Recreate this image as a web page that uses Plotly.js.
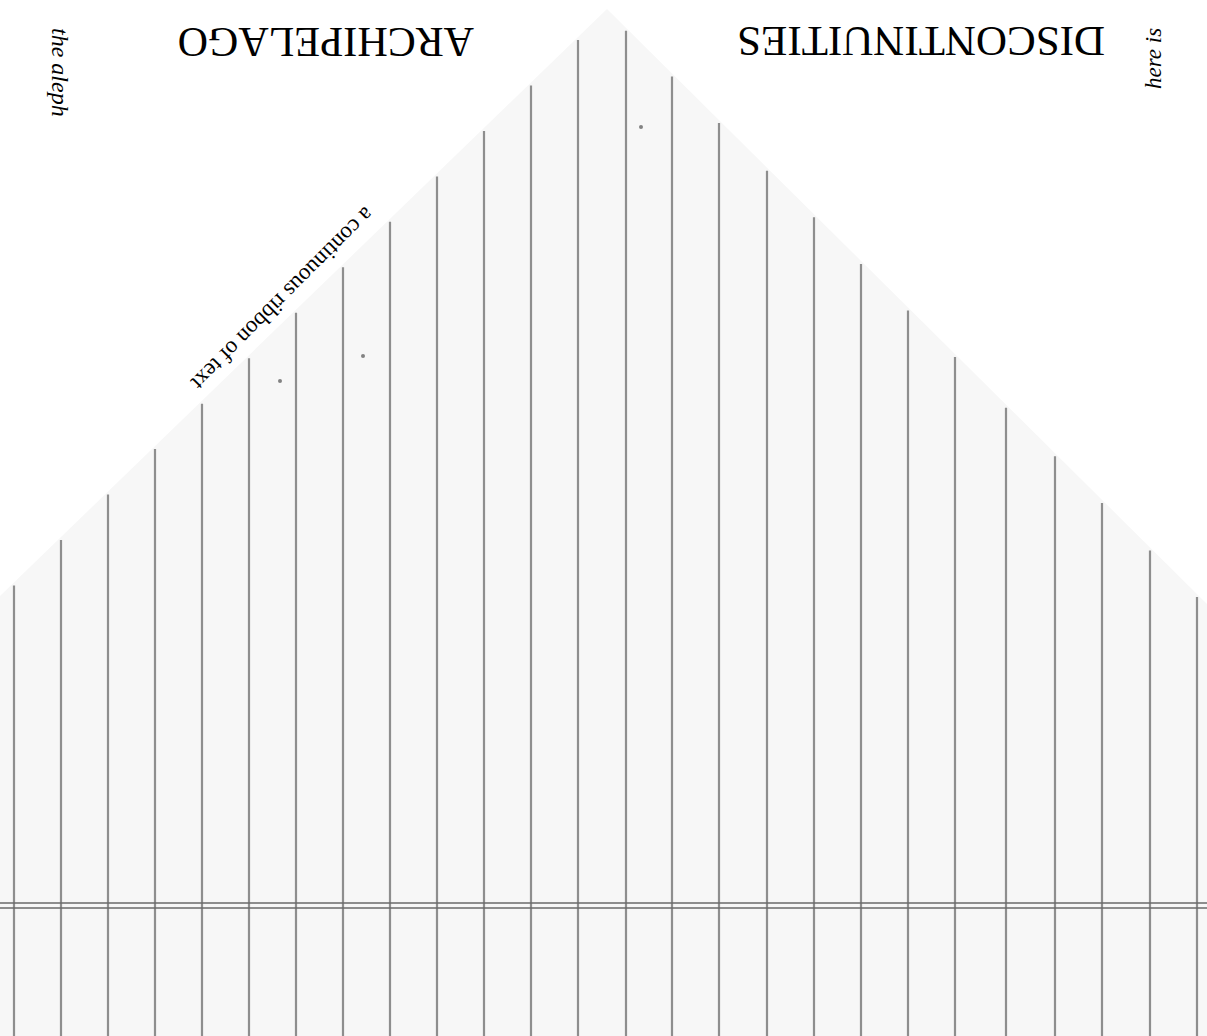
<!DOCTYPE html>
<html>
<head>
<meta charset="utf-8">
<script src="https://cdn.plot.ly/plotly-3.0.1.min.js"></script>
<style>
  html, body { margin: 0; padding: 0; background: #ffffff; }
  #chart { width: 1207px; height: 1036px; }
</style>
</head>
<body>
<div id="chart"></div>
<script>
// ---- data (pixel-space units) ----
const roofX = [0, 607, 1207];
const roofY = [596, 9, 604];
const ruleX = [14, 61, 108, 155, 202, 249, 296, 343, 390, 437, 484, 531, 578, 626,
               672, 719, 767, 814, 861, 908, 955, 1006, 1055, 1102, 1150, 1197];
const crossY = [903, 908];
const speckX = [641, 280, 363];
const speckY = [127, 381, 356];
const labels = ["DISCONTINUITIES", "ARCHIPELAGO", "the aleph", "here is", "a continuous ribbon of text"];
const labelX = [921, 326, 60, 1153, 283];
const labelY = [42, 42, 72, 59, 299];

const W = 1207, H = 1036;

function roofAt(x) {
  for (let i = 0; i < roofX.length - 1; i++) {
    if (x >= roofX[i] && x <= roofX[i + 1]) {
      const t = (x - roofX[i]) / (roofX[i + 1] - roofX[i]);
      return roofY[i] + t * (roofY[i + 1] - roofY[i]);
    }
  }
  return roofY[roofY.length - 1];
}

const traces = [];
// paper sheet
traces.push({
  x: [roofX[0]].concat(roofX, [roofX[roofX.length - 1], roofX[0]]),
  y: [H].concat(roofY, [H, H]),
  mode: 'lines', fill: 'toself', fillcolor: '#f7f7f7',
  line: { width: 0, color: 'rgba(0,0,0,0)' }, hoverinfo: 'skip', showlegend: false
});
// vertical rules
const vx = [], vy = [];
ruleX.forEach(x => { vx.push(x, x, null); vy.push(roofAt(x) + 3, H, null); });
traces.push({
  x: vx, y: vy, mode: 'lines',
  line: { color: 'rgba(115,115,115,0.8)', width: 2.2 },
  hoverinfo: 'skip', showlegend: false
});
// horizontal double rule
const hx = [], hy = [];
crossY.forEach(y => { hx.push(0, W, null); hy.push(y, y, null); });
traces.push({
  x: hx, y: hy, mode: 'lines',
  line: { color: 'rgba(105,105,105,0.75)', width: 1.8 },
  hoverinfo: 'skip', showlegend: false
});
// specks
traces.push({
  x: speckX, y: speckY, mode: 'markers',
  marker: { size: 4, color: 'rgba(100,100,100,0.8)' },
  hoverinfo: 'skip', showlegend: false
});

const serif = '"Liberation Serif", "DejaVu Serif", serif';
const styles = [
  { size: 43, angle: 180, italic: false },
  { size: 42, angle: 180, italic: false },
  { size: 24, angle: 90, italic: true },
  { size: 23, angle: -90, italic: true },
  { size: 23, angle: 135, italic: false }
];
const annotations = labels.map((t, i) => ({
  x: labelX[i], y: labelY[i], xref: 'x', yref: 'y',
  text: t, showarrow: false, textangle: styles[i].angle,
  xanchor: 'center', yanchor: 'middle',
  font: { family: serif, size: styles[i].size, color: '#000000',
          style: styles[i].italic ? 'italic' : 'normal' }
}));

const layout = {
  width: W, height: H,
  margin: { l: 0, r: 0, t: 0, b: 0 },
  paper_bgcolor: '#ffffff', plot_bgcolor: '#ffffff',
  xaxis: { range: [0, W], visible: false, fixedrange: true },
  yaxis: { range: [H, 0], visible: false, fixedrange: true },
  annotations: annotations,
  showlegend: false
};

Plotly.newPlot('chart', traces, layout, { staticPlot: true, displayModeBar: false });
</script>
</body>
</html>
